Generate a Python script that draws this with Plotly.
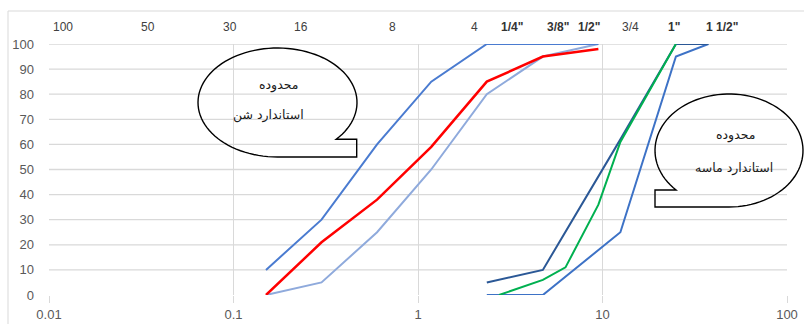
import math
import plotly.graph_objects as go

# Sieve openings (mm) and percent passing
SIEVE_FINE = [0.15, 0.3, 0.6, 1.18, 2.36, 4.75, 9.5]
SAND_UPPER = [10, 30, 60, 85, 100, 100, 100]
SAND_LOWER = [0, 5, 25, 50, 80, 95, 100]
SAND_MIX = [0, 21, 38, 59, 85, 95, 98]

SIEVE_COARSE = [2.36, 4.75, 12.5, 25, 37.5]
GRAVEL_UPPER = [5, 10, 62, 100, 100]
GRAVEL_LOWER = [0, 0, 25, 95, 100]

SIEVE_GRAVEL_MIX = [2.75, 4.75, 6.3, 9.5, 12.5, 25]
GRAVEL_MIX = [0, 6, 11, 36, 61, 100]

X_TICKS = [0.01, 0.1, 1, 10, 100]
X_TICK_TEXT = ["0.01", "0.1", "1", "10", "100"]
Y_TICKS = [0, 10, 20, 30, 40, 50, 60, 70, 80, 90, 100]
Y_GRID = [10, 20, 30, 40, 50, 60, 70, 80, 90, 100]

# Sieve names printed along the top
TOP_LABELS = ["100", "50", "30", "16", "8", "4", '1/4"', '3/8"', '1/2"', "3/4", '1"', '1 1/2"']
TOP_BOLD = [False, False, False, False, False, False, True, True, True, False, True, True]

CALLOUT_FINE_TEXT = ["محدوده", "استاندارد شن"]
CALLOUT_COARSE_TEXT = ["محدوده", "استاندارد ماسه"]

W, H = 804, 324
ML, MR, MT, MB = 49, 17, 44, 29
PW, PH = W - ML - MR, H - MT - MB


def to_paper(px, py):
    return (px - ML) / PW, (H - MB - py) / PH


def callout_path(cx, cy, rx, ry, t_start, t_end, tail_x, tail_top):
    pts = []
    n = 90
    for i in range(n + 1):
        t = t_start + (t_end - t_start) * i / n
        pts.append((cx + rx * math.cos(t), cy + ry * math.sin(t)))
    bottom_y = cy + ry
    pts.append((tail_x, bottom_y))
    pts.append((tail_x, tail_top))
    segs = []
    for k, (x, y) in enumerate(pts):
        u, v = to_paper(x, y)
        segs.append(("M" if k == 0 else "L") + f"{u:.5f},{v:.5f}")
    return " ".join(segs) + " Z"


fig = go.Figure()

line_specs = [
    (SIEVE_FINE, SAND_LOWER, "#8FAADC", 2),
    (SIEVE_FINE, SAND_UPPER, "#4A7BD0", 2),
    (SIEVE_FINE, SAND_MIX, "#FF0000", 2.5),
    (SIEVE_COARSE, GRAVEL_LOWER, "#3D72C6", 2),
    (SIEVE_COARSE, GRAVEL_UPPER, "#2B5896", 2),
    (SIEVE_GRAVEL_MIX, GRAVEL_MIX, "#00B050", 2),
]
for xs, ys, color, width in line_specs:
    fig.add_trace(go.Scatter(x=xs, y=ys, mode="lines",
                             line=dict(color=color, width=width),
                             showlegend=False, hoverinfo="skip"))

shapes = []
# horizontal gridlines (none at zero)
for g in Y_GRID:
    shapes.append(dict(type="line", xref="paper", yref="y", x0=0, x1=1, y0=g, y1=g,
                       line=dict(color="#D9D9D9", width=1.3), layer="below"))
# outer chart frame
fx0, fy1 = to_paper(8, 11)
shapes.append(dict(type="rect", xref="paper", yref="paper", x0=fx0, x1=1.2, y0=-0.3, y1=fy1,
                   line=dict(color="#D9D9D9", width=1), layer="below"))

# oval callout over the fine range, tail at lower right
cx, cy, rx, ry = 277.5, 102.5, 79.5, 54.5
tail_top = 139.3
t1 = math.asin((tail_top - cy) / ry)
shapes.append(dict(type="path", xref="paper", yref="paper",
                   path=callout_path(cx, cy, rx, ry, t1, math.pi / 2 - 2 * math.pi, 356.7, tail_top),
                   line=dict(color="#000000", width=1.4), fillcolor="rgba(0,0,0,0)"))

# oval callout over the coarse range, tail at lower left
cx2, cy2, rx2, ry2 = 729, 150.5, 74, 56.5
tail_top2 = 190
t2 = math.pi - math.asin((tail_top2 - cy2) / ry2)
shapes.append(dict(type="path", xref="paper", yref="paper",
                   path=callout_path(cx2, cy2, rx2, ry2, t2, 2 * math.pi + math.pi / 2, 655, tail_top2),
                   line=dict(color="#000000", width=1.4), fillcolor="rgba(0,0,0,0)"))

annotations = []
TOP_PX = [63, 148, 230, 301, 392, 474, 512, 558, 589, 630, 674, 722]
for lab, bold, px in zip(TOP_LABELS, TOP_BOLD, TOP_PX):
    u, v = to_paper(px, 27)
    annotations.append(dict(x=u, y=v, xref="paper", yref="paper", showarrow=False,
                            text=f"<b>{lab}</b>" if bold else lab,
                            font=dict(family="Liberation Sans, Arial", size=12,
                                      color="#333333" if bold else "#404040"),
                            xanchor="center", yanchor="middle"))

for (txt, px, py) in [(CALLOUT_FINE_TEXT[0], 278, 85), (CALLOUT_FINE_TEXT[1], 268, 115),
                      (CALLOUT_COARSE_TEXT[0], 735, 135), (CALLOUT_COARSE_TEXT[1], 734, 168)]:
    u, v = to_paper(px, py)
    annotations.append(dict(x=u, y=v, xref="paper", yref="paper", showarrow=False, text=txt,
                            font=dict(family="DejaVu Sans", size=12.5, color="#1a1a1a"),
                            xanchor="center", yanchor="middle"))

fig.update_layout(
    width=W, height=H,
    margin=dict(l=ML, r=MR, t=MT, b=MB, pad=0, autoexpand=False),
    paper_bgcolor="white", plot_bgcolor="white",
    shapes=shapes, annotations=annotations,
    xaxis=dict(type="log", range=[-2, 2], tickmode="array", tickvals=X_TICKS, ticktext=X_TICK_TEXT,
               showgrid=True, gridcolor="#D9D9D9", gridwidth=1.3, zeroline=False, showline=False,
               ticks="outside", ticklen=7, tickcolor="#D9D9D9", tickwidth=1.3,
               ticklabelstandoff=0, automargin=False,
               tickfont=dict(family="Liberation Sans, Arial", size=13, color="#595959")),
    yaxis=dict(range=[0, 100], tickmode="array", tickvals=Y_TICKS, showgrid=False, zeroline=False,
               showline=False, ticks="", ticklabelstandoff=14, automargin=False,
               tickfont=dict(family="Liberation Sans, Arial", size=13, color="#595959")),
)

fig.write_html("out.html")
